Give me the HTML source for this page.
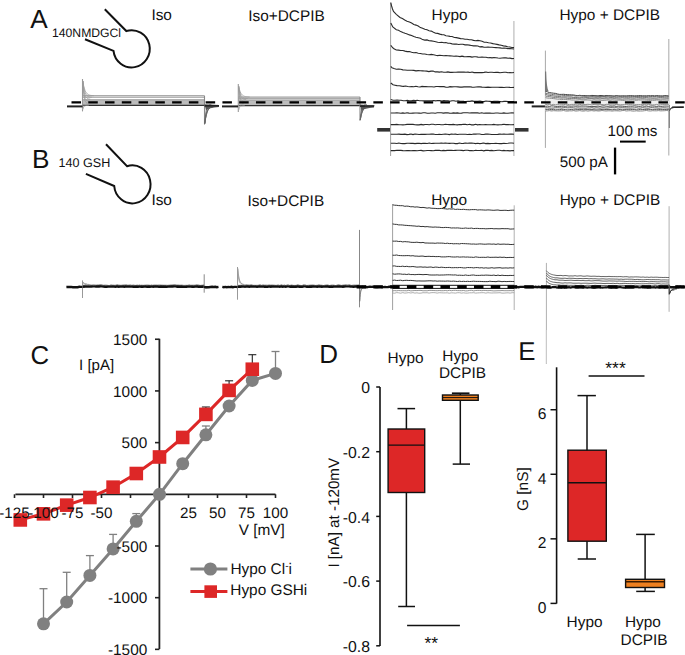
<!DOCTYPE html>
<html><head><meta charset="utf-8"><style>
html,body{margin:0;padding:0;background:#fff;width:685px;height:655px;overflow:hidden}
svg{display:block}
text{font-family:"Liberation Sans",sans-serif;fill:#111;text-rendering:geometricPrecision}
</style></head><body>
<svg width="685" height="655" viewBox="0 0 685 655">
<rect width="685" height="655" fill="#fff"/>
<text x="30.3" y="27.9" font-size="26.2" text-anchor="start" >A</text>
<text x="32.0" y="167.7" font-size="26.2" text-anchor="start" >B</text>
<text x="30.6" y="363.6" font-size="25.8" text-anchor="start" >C</text>
<text x="319.2" y="362.7" font-size="26" text-anchor="start" >D</text>
<text x="518.3" y="359.8" font-size="25.8" text-anchor="start" >E</text>
<path d="M104.8 9.3 L126.3 31.0 A18.2 18.6 0 1 1 113.5 50.9 L85 39.3" fill="none" stroke="#111" stroke-width="2.0"/>
<path d="M106 144.2 L127 166.2 A18.2 19 0 1 1 114.2 186 L85.9 173.9" fill="none" stroke="#111" stroke-width="2.0"/>
<text x="52.0" y="37.4" font-size="12.2" text-anchor="start" >140NMDGCl</text>
<text x="58.5" y="166.9" font-size="12.6" text-anchor="start" >140 GSH</text>
<text x="151.4" y="20.4" font-size="15.4" text-anchor="start" >Iso</text>
<text x="248.2" y="20.8" font-size="15.4" text-anchor="start" >Iso+DCPIB</text>
<text x="431.6" y="20.1" font-size="15.4" text-anchor="start" >Hypo</text>
<text x="559.5" y="20.1" font-size="15.4" text-anchor="start" >Hypo + DCPIB</text>
<text x="151.4" y="205.0" font-size="15.4" text-anchor="start" >Iso</text>
<text x="247.6" y="205.6" font-size="15.4" text-anchor="start" >Iso+DCPIB</text>
<text x="431.2" y="205.3" font-size="15.4" text-anchor="start" >Hypo</text>
<text x="559.7" y="204.7" font-size="15.4" text-anchor="start" >Hypo + DCPIB</text>
<line x1="82.50" y1="95.80" x2="204.50" y2="95.80" stroke="#7a7a7a" stroke-width="0.9" />
<line x1="82.50" y1="97.30" x2="204.50" y2="97.30" stroke="#8a8a8a" stroke-width="0.8" />
<rect x="82.50" y="99.30" width="122.00" height="6.30" fill="#bcbcbc" stroke="none" stroke-width="0"/>
<line x1="82.50" y1="99.80" x2="204.50" y2="99.80" stroke="#999" stroke-width="0.8" />
<line x1="82.50" y1="105.30" x2="204.50" y2="105.30" stroke="#333" stroke-width="1.3" />
<line x1="82.50" y1="79.00" x2="82.50" y2="111.40" stroke="#999" stroke-width="1.1" />
<polyline points="82.8,81.0 83.5,85.2 84.3,88.2 85.0,90.4 85.7,91.9 86.5,93.0 87.2,93.8 87.9,94.4 88.7,94.8 89.4,95.1 90.1,95.3 90.9,95.4 91.6,95.5 92.3,95.6 93.1,95.7 93.8,95.7" stroke="#999" stroke-width="0.8" fill="none" />
<polyline points="82.8,81.0 83.4,85.6 84.0,88.9 84.6,91.3 85.2,93.0 85.8,94.2 86.4,95.1 87.0,95.7 87.6,96.2 88.2,96.5 88.8,96.7 89.4,96.9 90.0,97.0 90.6,97.1 91.2,97.1 91.8,97.2" stroke="#999" stroke-width="0.8" fill="none" />
<polyline points="82.8,81.0 83.3,86.2 83.8,89.9 84.3,92.6 84.8,94.5 85.3,95.8 85.8,96.8 86.3,97.5 86.8,98.0 87.3,98.4 87.8,98.6 88.3,98.8 88.8,99.0 89.3,99.1 89.8,99.1 90.3,99.2" stroke="#999" stroke-width="0.8" fill="none" />
<polyline points="82.8,81.0 83.2,86.8 83.6,90.9 84.0,93.8 84.4,95.9 84.8,97.5 85.2,98.6 85.6,99.3 86.0,99.9 86.4,100.3 86.8,100.6 87.2,100.8 87.6,100.9 88.0,101.0 88.4,101.1 88.8,101.2" stroke="#999" stroke-width="0.8" fill="none" />
<polyline points="82.8,81.0 83.1,87.3 83.5,91.9 83.8,95.1 84.1,97.4 84.5,99.1 84.8,100.3 85.1,101.1 85.5,101.8 85.8,102.2 86.1,102.5 86.5,102.7 86.8,102.9 87.1,103.0 87.5,103.1 87.8,103.1" stroke="#999" stroke-width="0.8" fill="none" />
<polyline points="82.8,109.4 83.2,108.2 83.6,107.4 84.0,106.8 84.4,106.4 84.8,106.1 85.2,105.9 85.6,105.7 86.0,105.6 86.4,105.5 86.8,105.4 87.2,105.4 87.6,105.4 88.0,105.4 88.4,105.3 88.8,105.3" stroke="#aaa" stroke-width="0.8" fill="none" />
<polyline points="82.8,109.4 83.1,107.8 83.5,106.7 83.8,105.9 84.1,105.3 84.5,104.9 84.8,104.6 85.1,104.3 85.5,104.2 85.8,104.1 86.1,104.0 86.5,103.9 86.8,103.9 87.1,103.9 87.5,103.9 87.8,103.8" stroke="#aaa" stroke-width="0.8" fill="none" />
<line x1="204.50" y1="95.80" x2="204.50" y2="124.60" stroke="#888" stroke-width="1.1" />
<polyline points="204.8,123.6 205.6,118.4 206.5,114.7 207.3,112.0 208.1,110.1 209.0,108.8 209.8,107.8 210.6,107.1 211.5,106.6 212.3,106.2 213.1,106.0 214.0,105.8 214.8,105.6 215.6,105.5 216.5,105.5 217.3,105.4" stroke="#666" stroke-width="0.9" fill="none" />
<polyline points="204.8,123.6 205.5,118.6 206.1,115.1 206.8,112.5 207.5,110.7 208.1,109.4 208.8,108.5 209.5,107.8 210.1,107.3 210.8,107.0 211.5,106.7 212.1,106.5 212.8,106.4 213.5,106.3 214.1,106.3 214.8,106.2" stroke="#666" stroke-width="0.9" fill="none" />
<polyline points="204.8,123.6 205.3,118.9 205.9,115.5 206.4,113.0 206.9,111.3 207.5,110.1 208.0,109.2 208.5,108.5 209.1,108.1 209.6,107.7 210.1,107.5 210.7,107.3 211.2,107.2 211.7,107.1 212.3,107.1 212.8,107.0" stroke="#666" stroke-width="0.9" fill="none" />
<polyline points="204.8,123.6 205.2,118.1 205.7,114.1 206.1,111.3 206.5,109.2 207.0,107.8 207.4,106.7 207.8,106.0 208.3,105.5 208.7,105.1 209.1,104.8 209.6,104.6 210.0,104.5 210.4,104.4 210.9,104.3 211.3,104.2" stroke="#666" stroke-width="0.9" fill="none" />
<path d="M204.5 104.3 L219.0 105.1 L219.0 107.1 Q208.5 107.8 206.0 110.3 Z" fill="#555"/>
<line x1="204.50" y1="105.80" x2="219.00" y2="105.80" stroke="#222" stroke-width="1.6" />
<line x1="238.30" y1="97.10" x2="360.00" y2="97.10" stroke="#7a7a7a" stroke-width="0.9" />
<line x1="238.30" y1="98.60" x2="360.00" y2="98.60" stroke="#8a8a8a" stroke-width="0.8" />
<rect x="238.30" y="99.60" width="121.70" height="6.00" fill="#bcbcbc" stroke="none" stroke-width="0"/>
<line x1="238.30" y1="100.10" x2="360.00" y2="100.10" stroke="#999" stroke-width="0.8" />
<line x1="238.30" y1="105.60" x2="360.00" y2="105.60" stroke="#333" stroke-width="1.3" />
<line x1="238.30" y1="84.10" x2="238.30" y2="112.00" stroke="#999" stroke-width="1.1" />
<polyline points="238.6,86.1 239.3,89.2 240.1,91.5 240.8,93.1 241.5,94.2 242.3,95.0 243.0,95.6 243.7,96.0 244.5,96.3 245.2,96.6 245.9,96.7 246.7,96.8 247.4,96.9 248.1,97.0 248.9,97.0 249.6,97.0" stroke="#999" stroke-width="0.8" fill="none" />
<polyline points="238.6,86.1 239.2,89.6 239.8,92.2 240.4,94.0 241.0,95.3 241.6,96.2 242.2,96.9 242.8,97.4 243.4,97.7 244.0,98.0 244.6,98.2 245.2,98.3 245.8,98.4 246.4,98.4 247.0,98.5 247.6,98.5" stroke="#999" stroke-width="0.8" fill="none" />
<polyline points="238.6,86.1 239.1,89.9 239.6,92.7 240.1,94.6 240.6,96.0 241.1,97.1 241.6,97.8 242.1,98.3 242.6,98.7 243.1,98.9 243.6,99.1 244.1,99.3 244.6,99.4 245.1,99.4 245.6,99.5 246.1,99.5" stroke="#999" stroke-width="0.8" fill="none" />
<polyline points="238.6,86.1 239.0,90.5 239.4,93.6 239.8,95.9 240.2,97.5 240.6,98.7 241.0,99.5 241.4,100.1 241.8,100.5 242.2,100.8 242.6,101.0 243.0,101.2 243.4,101.3 243.8,101.4 244.2,101.5 244.6,101.5" stroke="#999" stroke-width="0.8" fill="none" />
<polyline points="238.6,86.1 238.9,91.1 239.3,94.6 239.6,97.2 239.9,99.0 240.3,100.3 240.6,101.2 240.9,101.9 241.3,102.4 241.6,102.7 241.9,103.0 242.3,103.2 242.6,103.3 242.9,103.4 243.3,103.4 243.6,103.5" stroke="#999" stroke-width="0.8" fill="none" />
<polyline points="238.6,110.0 239.0,108.8 239.4,107.9 239.8,107.2 240.2,106.8 240.6,106.4 241.0,106.2 241.4,106.0 241.8,105.9 242.2,105.8 242.6,105.8 243.0,105.7 243.4,105.7 243.8,105.7 244.2,105.6 244.6,105.6" stroke="#aaa" stroke-width="0.8" fill="none" />
<polyline points="238.6,110.0 238.9,108.3 239.3,107.1 239.6,106.3 239.9,105.7 240.3,105.2 240.6,104.9 240.9,104.7 241.3,104.5 241.6,104.4 241.9,104.3 242.3,104.3 242.6,104.2 242.9,104.2 243.3,104.2 243.6,104.1" stroke="#aaa" stroke-width="0.8" fill="none" />
<line x1="360.00" y1="97.10" x2="360.00" y2="120.70" stroke="#888" stroke-width="1.1" />
<polyline points="360.3,119.7 361.1,115.7 362.0,112.8 362.8,110.8 363.6,109.3 364.5,108.3 365.3,107.5 366.1,107.0 367.0,106.6 367.8,106.3 368.6,106.1 369.5,106.0 370.3,105.9 371.1,105.8 372.0,105.7 372.8,105.7" stroke="#666" stroke-width="0.9" fill="none" />
<polyline points="360.3,119.7 361.0,115.9 361.6,113.2 362.3,111.3 363.0,109.9 363.6,108.9 364.3,108.2 365.0,107.7 365.6,107.3 366.3,107.1 367.0,106.9 367.6,106.7 368.3,106.6 369.0,106.6 369.6,106.5 370.3,106.5" stroke="#666" stroke-width="0.9" fill="none" />
<polyline points="360.3,119.7 360.8,116.2 361.4,113.6 361.9,111.8 362.4,110.5 363.0,109.6 363.5,108.9 364.0,108.4 364.6,108.1 365.1,107.8 365.6,107.6 366.2,107.5 366.7,107.4 367.2,107.4 367.8,107.3 368.3,107.3" stroke="#666" stroke-width="0.9" fill="none" />
<polyline points="360.3,119.7 360.7,115.4 361.2,112.3 361.6,110.0 362.0,108.4 362.5,107.3 362.9,106.5 363.3,105.9 363.8,105.5 364.2,105.2 364.6,104.9 365.1,104.8 365.5,104.7 365.9,104.6 366.4,104.5 366.8,104.5" stroke="#666" stroke-width="0.9" fill="none" />
<path d="M360.0 104.6 L374.0 105.4 L374.0 107.4 Q364.0 108.1 361.5 110.6 Z" fill="#555"/>
<line x1="360.00" y1="106.10" x2="374.00" y2="106.10" stroke="#222" stroke-width="1.6" />
<line x1="67.00" y1="106.40" x2="82.50" y2="106.40" stroke="#222" stroke-width="2.0" />
<line x1="222.00" y1="106.40" x2="238.00" y2="106.40" stroke="#222" stroke-width="2.0" />
<line x1="531.70" y1="106.40" x2="545.40" y2="106.40" stroke="#222" stroke-width="2.0" />
<line x1="672.00" y1="107.30" x2="683.80" y2="107.10" stroke="#222" stroke-width="1.6" />
<line x1="669.20" y1="105.00" x2="669.20" y2="128.00" stroke="#333" stroke-width="1.0" />
<polyline points="669.4,111.0 669.8,110.0 670.2,109.2 670.6,108.7 671.0,108.3 671.4,108.0 671.8,107.8 672.2,107.7 672.6,107.6 673.0,107.5 673.4,107.4 673.8,107.4 674.2,107.4 674.6,107.3 675.0,107.3 675.4,107.3" stroke="#333" stroke-width="1.0" fill="none" />
<polyline points="669.4,111.0 669.7,110.1 669.9,109.4 670.2,109.0 670.5,108.6 670.7,108.4 671.0,108.2 671.3,108.1 671.5,108.0 671.8,108.0 672.1,107.9 672.3,107.9 672.6,107.9 672.9,107.8 673.1,107.8 673.4,107.8" stroke="#333" stroke-width="1.0" fill="none" />
<line x1="390.60" y1="2.50" x2="390.60" y2="156.00" stroke="#a0a0a0" stroke-width="1" />
<line x1="513.90" y1="21.00" x2="513.90" y2="156.00" stroke="#c0c0c0" stroke-width="1.3" />
<polyline points="390.8,2.6 391.6,6.0 392.5,9.0 393.5,11.5 396.3,14.3 400.0,17.5 402.4,18.6 404.7,20.0 407.0,21.2 409.4,22.0 411.6,23.0 413.8,24.5 416.0,25.1 418.2,26.1 420.4,27.6 422.6,28.3 424.8,29.3 427.0,29.8 429.1,30.7 431.3,31.1 433.5,32.2 435.7,33.2 437.7,33.4 439.8,34.1 441.8,34.6 443.9,34.7 445.9,35.7 448.0,36.0 450.0,36.4 452.1,36.5 454.3,37.5 456.4,37.6 458.6,38.1 460.7,38.6 462.9,38.8 465.0,39.3 467.1,39.2 469.3,39.8 471.4,39.8 473.6,40.4 475.7,40.7 477.9,40.4 480.0,40.7 482.1,41.2 484.2,42.2 486.4,42.3 488.5,42.8 490.6,43.0 492.8,43.6 494.9,44.0 497.0,44.4 499.1,44.9 501.2,45.3 503.4,45.9 505.5,46.1 507.6,46.7 509.8,47.0 511.9,47.5 514.0,47.5" stroke="#2a2a2a" stroke-width="1.1" fill="none" />
<polyline points="390.8,23.0 391.8,25.0 392.8,27.0 396.3,29.7 398.5,30.2 400.7,31.6 402.9,32.5 405.0,33.3 407.2,34.0 409.4,34.9 411.6,35.4 413.8,36.6 416.0,37.2 418.2,37.7 420.4,38.3 422.6,39.6 424.8,40.1 427.0,39.9 429.1,40.8 431.3,40.9 433.5,41.2 435.7,41.7 437.7,42.2 439.8,42.5 441.8,42.2 443.9,42.8 445.9,42.6 448.0,43.3 450.0,43.3 452.1,43.9 454.3,44.1 456.4,44.0 458.6,44.5 460.7,44.3 462.9,44.3 465.0,44.9 467.1,44.7 469.3,45.1 471.4,45.5 473.6,45.9 475.7,45.8 477.9,46.0 480.0,46.9 482.0,46.6 484.0,47.2 486.0,47.2 488.0,47.0 490.0,47.2 492.0,47.3 494.0,47.5 496.0,47.6 498.0,47.7 500.0,47.9 502.0,48.3 504.0,48.1 506.0,48.3 508.0,48.6 510.0,48.5 512.0,48.7 514.0,49.0" stroke="#2a2a2a" stroke-width="1.1" fill="none" />
<polyline points="390.8,45.3 392.0,47.0 393.5,48.5 396.3,50.0 398.5,50.1 400.7,50.5 402.9,50.5 405.0,51.1 407.2,51.6 409.4,51.6 411.6,52.3 413.8,52.7 416.0,52.6 418.2,53.3 420.4,53.5 422.6,54.0 424.8,54.0 427.0,54.5 429.1,54.7 431.3,54.4 433.5,54.7 435.7,55.3 437.7,55.6 439.8,55.3 441.8,55.5 443.9,55.7 445.9,55.6 448.0,55.8 450.0,55.9 452.0,56.0 454.0,56.2 456.0,56.1 458.0,56.2 460.0,56.6 462.0,56.1 464.0,56.6 466.0,56.8 468.0,56.6 470.0,56.6 472.0,57.1 474.0,56.8 476.0,56.8 478.0,57.1 480.0,57.3 482.0,57.0 484.0,57.2 486.0,57.3 488.0,57.7 490.0,57.5 492.0,57.9 494.0,57.5 496.0,57.7 498.0,58.0 500.0,58.2 502.0,58.0 504.0,57.9 506.0,57.9 508.0,58.3 510.0,58.1 512.0,58.6 514.0,58.5" stroke="#2a2a2a" stroke-width="1.1" fill="none" />
<polyline points="390.8,66.4 392.0,67.8 394.0,68.6 396.3,69.2 398.5,69.0 400.7,69.3 402.9,69.9 405.0,70.0 407.2,70.3 409.4,70.2 411.6,70.2 413.8,70.4 416.0,70.9 418.2,70.6 420.4,70.8 422.6,70.9 424.7,71.0 426.8,71.1 428.9,71.6 431.0,71.1 433.1,71.1 435.2,71.9 437.4,71.9 439.5,72.1 441.6,71.8 443.7,72.2 445.8,72.3 447.9,71.9 450.0,72.4 452.0,72.4 454.0,72.3 456.0,72.2 458.0,72.1 460.0,72.1 462.0,72.1 464.0,72.0 466.0,72.3 468.0,72.1 470.0,72.5 472.0,72.0 474.0,72.6 476.0,72.5 478.0,72.6 480.0,72.6 482.0,72.6 484.0,72.4 486.0,72.0 488.0,72.5 490.0,72.2 492.0,72.3 494.0,72.5 496.0,72.4 498.0,72.4 500.0,72.7 502.0,72.5 504.0,72.3 506.0,72.3 508.0,72.7 510.0,72.5 512.0,72.7 514.0,72.5" stroke="#2a2a2a" stroke-width="1.1" fill="none" />
<polyline points="390.8,83.0 393.0,84.8 395.0,85.2 397.0,85.6 399.3,85.7 401.6,86.1 403.6,86.4 405.7,86.0 407.7,86.5 409.8,86.7 411.8,86.6 413.9,86.7 415.9,86.2 418.0,86.7 420.0,87.0 422.0,86.4 424.0,86.6 426.0,86.6 428.0,86.8 430.0,86.7 432.0,86.8 434.0,87.0 436.0,86.5 438.0,86.5 440.0,86.6 442.0,86.6 444.0,86.6 446.0,87.2 448.0,87.2 450.0,86.6 452.0,86.9 454.0,86.8 456.0,86.8 458.0,86.9 460.0,87.1 462.0,87.1 464.0,86.9 466.0,86.8 468.0,86.9 470.0,86.8 472.0,87.1 474.0,87.3 476.0,87.0 478.0,86.8 480.0,86.9 482.0,87.1 484.0,87.2 486.0,87.4 488.0,87.1 490.0,87.4 492.0,87.3 494.0,87.2 496.0,87.2 498.0,87.3 500.0,87.4 502.0,87.3 504.0,87.5 506.0,87.3 508.0,87.2 510.0,87.4 512.0,87.5 514.0,87.4" stroke="#2a2a2a" stroke-width="1.1" fill="none" />
<polyline points="390.8,99.6 393.0,100.3 395.0,100.3 397.1,100.1 399.1,100.3 401.1,100.3 403.2,100.7 405.2,100.8 407.2,100.4 409.3,100.8 411.3,100.7 413.4,100.4 415.4,100.5 417.4,100.3 419.5,100.8 421.5,100.8 423.5,100.9 425.6,100.9 427.6,100.8 429.6,100.9 431.7,100.8 433.7,100.5 435.8,100.9 437.8,100.5 439.8,100.6 441.9,101.1 443.9,100.6 445.9,100.7 448.0,100.7 450.0,101.3 452.0,100.8 454.0,100.7 456.0,101.3 458.0,100.8 460.0,101.3 462.0,101.2 464.0,101.4 466.0,101.5 468.0,101.2 470.0,101.4 472.0,100.9 474.0,101.4 476.0,101.3 478.0,101.4 480.0,101.0 482.0,101.5 484.0,101.6 486.0,101.0 488.0,101.2 490.0,101.4 492.0,101.6 494.0,101.2 496.0,101.2 498.0,101.3 500.0,101.5 502.0,101.7 504.0,101.4 506.0,101.4 508.0,101.5 510.0,101.5 512.0,101.5 514.0,101.6" stroke="#2a2a2a" stroke-width="1.1" fill="none" />
<polyline points="390.8,113.0 392.8,113.0 394.8,113.0 396.9,112.7 398.9,113.0 400.9,113.3 402.9,112.9 404.9,113.2 407.0,112.8 409.0,113.1 411.0,113.2 413.0,113.1 415.0,113.0 417.1,113.0 419.1,113.1 421.1,113.3 423.1,112.8 425.1,112.7 427.2,113.2 429.2,113.3 431.2,113.0 433.2,113.0 435.2,113.2 437.3,112.8 439.3,112.8 441.3,112.8 443.3,113.1 445.3,112.9 447.4,112.8 449.4,113.1 451.4,113.3 453.4,112.9 455.4,113.1 457.4,112.9 459.5,113.2 461.5,113.1 463.5,112.8 465.5,112.8 467.5,112.7 469.6,113.0 471.6,112.9 473.6,112.8 475.6,112.9 477.6,112.9 479.7,113.2 481.7,112.8 483.7,113.3 485.7,113.0 487.7,113.1 489.8,113.0 491.8,113.2 493.8,113.2 495.8,113.0 497.8,113.0 499.9,113.2 501.9,113.2 503.9,112.9 505.9,113.2 507.9,113.3 510.0,113.0 512.0,112.8 514.0,113.0" stroke="#2a2a2a" stroke-width="1.1" fill="none" />
<polyline points="390.8,124.6 392.8,124.6 394.8,124.6 396.9,124.4 398.9,124.8 400.9,124.7 402.9,124.9 404.9,124.8 407.0,124.4 409.0,124.4 411.0,124.4 413.0,124.4 415.0,124.7 417.1,124.9 419.1,124.9 421.1,124.4 423.1,124.9 425.1,124.5 427.2,124.5 429.2,124.8 431.2,124.3 433.2,124.3 435.2,124.8 437.3,124.5 439.3,124.5 441.3,124.7 443.3,124.7 445.3,124.3 447.4,124.5 449.4,124.6 451.4,124.6 453.4,124.4 455.4,124.7 457.4,124.9 459.5,124.5 461.5,124.6 463.5,124.3 465.5,124.4 467.5,124.7 469.6,124.3 471.6,124.9 473.6,124.9 475.6,124.3 477.6,124.9 479.7,124.5 481.7,124.8 483.7,124.8 485.7,124.5 487.7,124.7 489.8,124.7 491.8,124.8 493.8,124.4 495.8,124.8 497.8,124.9 499.9,124.7 501.9,124.6 503.9,124.3 505.9,124.6 507.9,124.5 510.0,124.8 512.0,124.7 514.0,124.6" stroke="#2a2a2a" stroke-width="1.1" fill="none" />
<polyline points="390.8,134.3 392.8,134.3 394.8,134.3 396.9,134.3 398.9,134.1 400.9,134.4 402.9,134.4 404.9,134.1 407.0,134.6 409.0,134.4 411.0,134.0 413.0,134.6 415.0,134.0 417.1,134.2 419.1,134.5 421.1,134.4 423.1,134.3 425.1,134.4 427.2,134.3 429.2,134.2 431.2,134.1 433.2,134.0 435.2,134.5 437.3,134.5 439.3,134.3 441.3,134.5 443.3,134.2 445.3,134.1 447.4,134.2 449.4,134.6 451.4,134.0 453.4,134.3 455.4,134.1 457.4,134.5 459.5,134.2 461.5,134.2 463.5,134.2 465.5,134.3 467.5,134.5 469.6,134.2 471.6,134.5 473.6,134.0 475.6,134.1 477.6,134.0 479.7,134.0 481.7,134.5 483.7,134.5 485.7,134.1 487.7,134.1 489.8,134.2 491.8,134.5 493.8,134.5 495.8,134.5 497.8,134.4 499.9,134.1 501.9,134.2 503.9,134.1 505.9,134.3 507.9,134.3 510.0,134.1 512.0,134.1 514.0,134.3" stroke="#2a2a2a" stroke-width="1.1" fill="none" />
<polyline points="390.8,143.3 392.8,143.3 394.8,143.3 396.9,143.5 398.9,143.0 400.9,143.5 402.9,143.6 404.9,143.6 407.0,143.2 409.0,143.3 411.0,143.4 413.0,143.4 415.0,143.6 417.1,143.4 419.1,143.2 421.1,143.6 423.1,143.3 425.1,143.4 427.2,143.5 429.2,143.0 431.2,143.5 433.2,143.4 435.2,143.3 437.3,143.3 439.3,143.3 441.3,143.1 443.3,143.3 445.3,143.0 447.4,143.3 449.4,143.4 451.4,143.3 453.4,143.3 455.4,143.6 457.4,143.6 459.5,143.0 461.5,143.5 463.5,143.4 465.5,143.0 467.5,143.2 469.6,143.1 471.6,143.0 473.6,143.3 475.6,143.6 477.6,143.2 479.7,143.6 481.7,143.4 483.7,143.0 485.7,143.6 487.7,143.4 489.8,143.6 491.8,143.5 493.8,143.5 495.8,143.2 497.8,143.5 499.9,143.6 501.9,143.6 503.9,143.3 505.9,143.5 507.9,143.3 510.0,143.0 512.0,143.0 514.0,143.3" stroke="#2a2a2a" stroke-width="1.1" fill="none" />
<polyline points="390.8,150.6 392.8,150.6 394.8,150.6 396.9,150.3 398.9,150.4 400.9,150.4 402.9,150.6 404.9,150.7 407.0,150.6 409.0,150.5 411.0,150.7 413.0,150.5 415.0,150.6 417.1,150.8 419.1,150.5 421.1,150.4 423.1,150.9 425.1,150.8 427.2,150.5 429.2,150.5 431.2,150.6 433.2,150.7 435.2,150.4 437.3,150.3 439.3,150.4 441.3,150.8 443.3,150.4 445.3,150.6 447.4,150.4 449.4,150.4 451.4,150.4 453.4,150.5 455.4,150.4 457.4,150.3 459.5,150.3 461.5,150.4 463.5,150.6 465.5,150.3 467.5,150.3 469.6,150.6 471.6,150.5 473.6,150.7 475.6,150.3 477.6,150.5 479.7,150.5 481.7,150.3 483.7,150.9 485.7,150.4 487.7,150.3 489.8,150.6 491.8,150.4 493.8,150.7 495.8,150.5 497.8,150.3 499.9,150.3 501.9,150.8 503.9,150.4 505.9,150.8 507.9,150.6 510.0,150.9 512.0,150.5 514.0,150.6" stroke="#2a2a2a" stroke-width="1.1" fill="none" />
<rect x="377.20" y="128.00" width="12.80" height="3.60" fill="#333" stroke="none" stroke-width="0"/>
<rect x="515.00" y="128.00" width="13.50" height="3.60" fill="#333" stroke="none" stroke-width="0"/>
<line x1="365.00" y1="105.80" x2="374.50" y2="105.80" stroke="#444" stroke-width="1" />
<line x1="545.40" y1="50.60" x2="545.40" y2="147.90" stroke="#a8a8a8" stroke-width="1" />
<line x1="668.80" y1="38.90" x2="668.80" y2="155.60" stroke="#b0b0b0" stroke-width="1.1" />
<rect x="545.40" y="95.50" width="123.40" height="15.50" fill="#f0f0f0" stroke="none" stroke-width="0"/>
<polyline points="545.4,91.2 547.4,91.8 549.4,92.6 551.5,92.9 553.5,93.2 555.5,93.4 557.5,94.0 559.6,94.4 561.6,94.4 563.6,94.3 565.6,94.5 567.7,94.7 569.7,94.8 571.7,94.9 573.7,95.0 575.7,95.4 577.8,95.6 579.8,95.3 581.8,95.7 583.8,95.5 585.9,95.7 587.9,95.8 589.9,95.8 591.9,95.4 594.0,95.6 596.0,95.7 598.0,95.9 600.0,95.5 602.0,95.6 604.1,95.9 606.1,95.5 608.1,95.7 610.1,95.7 612.2,95.9 614.2,96.0 616.2,95.6 618.2,95.9 620.2,95.9 622.3,95.9 624.3,95.8 626.3,96.0 628.3,95.7 630.4,95.7 632.4,95.7 634.4,95.9 636.4,95.8 638.5,95.7 640.5,95.6 642.5,95.9 644.5,95.8 646.5,95.9 648.6,95.7 650.6,95.8 652.6,95.6 654.6,95.9 656.7,95.6 658.7,95.8 660.7,95.9 662.7,95.9 664.8,95.6 666.8,95.7 668.8,96.0" stroke="#333" stroke-width="0.95" fill="none" />
<polyline points="545.4,93.1 547.4,93.6 549.4,94.0 551.5,94.2 553.5,94.7 555.5,94.9 557.5,94.9 559.6,95.1 561.6,95.1 563.6,95.4 565.6,95.8 567.7,95.5 569.7,95.8 571.7,95.7 573.7,95.7 575.7,96.1 577.8,95.9 579.8,95.9 581.8,96.0 583.8,96.3 585.9,96.3 587.9,96.0 589.9,96.1 591.9,96.5 594.0,96.2 596.0,96.3 598.0,96.3 600.0,96.5 602.0,96.4 604.1,96.5 606.1,96.4 608.1,96.2 610.1,96.2 612.2,96.2 614.2,96.5 616.2,96.2 618.2,96.1 620.2,96.6 622.3,96.2 624.3,96.6 626.3,96.2 628.3,96.4 630.4,96.3 632.4,96.6 634.4,96.5 636.4,96.5 638.5,96.5 640.5,96.6 642.5,96.3 644.5,96.4 646.5,96.4 648.6,96.2 650.6,96.6 652.6,96.4 654.6,96.6 656.7,96.3 658.7,96.4 660.7,96.4 662.7,96.5 664.8,96.2 666.8,96.3 668.8,96.4" stroke="#666" stroke-width="0.95" fill="none" />
<polyline points="545.4,94.3 547.4,95.0 549.4,95.4 551.5,95.6 553.5,96.0 555.5,96.3 557.5,96.3 559.6,96.5 561.6,97.0 563.6,96.8 565.6,97.0 567.7,96.9 569.7,97.1 571.7,97.1 573.7,97.6 575.7,97.5 577.8,97.7 579.8,97.8 581.8,97.6 583.8,97.8 585.9,97.6 587.9,97.6 589.9,97.9 591.9,97.9 594.0,97.9 596.0,97.7 598.0,97.9 600.0,97.7 602.0,98.0 604.1,98.0 606.1,97.7 608.1,98.0 610.1,97.6 612.2,97.6 614.2,97.9 616.2,97.7 618.2,97.8 620.2,97.9 622.3,97.6 624.3,97.9 626.3,97.7 628.3,97.8 630.4,97.7 632.4,97.9 634.4,97.9 636.4,97.7 638.5,97.6 640.5,97.7 642.5,97.8 644.5,97.6 646.5,97.6 648.6,97.9 650.6,97.9 652.6,98.0 654.6,98.0 656.7,98.0 658.7,97.7 660.7,97.6 662.7,97.7 664.8,97.8 666.8,97.8 668.8,97.8" stroke="#666" stroke-width="0.95" fill="none" />
<polyline points="545.4,95.9 547.4,96.6 549.4,96.6 551.5,97.0 553.5,97.5 555.5,97.7 557.5,97.6 559.6,97.8 561.6,98.2 563.6,97.9 565.6,98.1 567.7,98.4 569.7,98.5 571.7,98.4 573.7,98.4 575.7,98.5 577.8,98.8 579.8,98.7 581.8,99.0 583.8,99.0 585.9,99.1 587.9,98.6 589.9,98.7 591.9,98.6 594.0,98.9 596.0,98.8 598.0,98.7 600.0,99.0 602.0,98.7 604.1,98.9 606.1,98.8 608.1,99.1 610.1,98.9 612.2,98.9 614.2,98.7 616.2,98.9 618.2,99.0 620.2,99.1 622.3,99.2 624.3,99.1 626.3,98.9 628.3,98.8 630.4,99.1 632.4,99.1 634.4,99.0 636.4,99.2 638.5,99.0 640.5,98.9 642.5,98.8 644.5,98.8 646.5,99.1 648.6,99.2 650.6,99.2 652.6,99.0 654.6,99.1 656.7,99.2 658.7,99.2 660.7,99.1 662.7,99.0 664.8,99.0 666.8,98.8 668.8,98.8" stroke="#777" stroke-width="0.95" fill="none" />
<polyline points="545.4,97.6 547.4,98.1 549.4,98.2 551.5,98.4 553.5,98.6 555.5,98.9 557.5,99.2 559.6,99.2 561.6,99.6 563.6,99.3 565.6,99.5 567.7,99.7 569.7,99.7 571.7,100.0 573.7,100.0 575.7,100.1 577.8,100.0 579.8,99.7 581.8,100.0 583.8,100.1 585.9,100.0 587.9,100.0 589.9,100.2 591.9,100.3 594.0,99.9 596.0,100.2 598.0,100.1 600.0,100.2 602.0,100.4 604.1,100.4 606.1,100.2 608.1,100.0 610.1,100.4 612.2,100.0 614.2,100.1 616.2,100.3 618.2,100.1 620.2,100.1 622.3,100.4 624.3,100.4 626.3,100.1 628.3,100.1 630.4,100.1 632.4,100.0 634.4,100.1 636.4,100.4 638.5,100.0 640.5,100.1 642.5,100.0 644.5,100.0 646.5,100.2 648.6,100.3 650.6,100.4 652.6,100.3 654.6,100.4 656.7,100.0 658.7,100.1 660.7,100.4 662.7,100.0 664.8,100.1 666.8,100.2 668.8,100.1" stroke="#888" stroke-width="0.95" fill="none" />
<polyline points="545.4,104.6 547.4,104.3 549.4,104.4 551.5,104.9 553.5,104.4 555.5,104.9 557.5,104.4 559.6,104.9 561.6,104.7 563.6,104.7 565.6,104.3 567.7,104.3 569.7,104.8 571.7,104.4 573.7,104.4 575.7,104.8 577.8,104.9 579.8,104.3 581.8,104.9 583.8,104.6 585.9,104.5 587.9,104.3 589.9,104.5 591.9,104.9 594.0,104.4 596.0,104.3 598.0,104.4 600.0,104.3 602.0,104.5 604.1,104.9 606.1,104.3 608.1,104.4 610.1,104.9 612.2,104.9 614.2,104.9 616.2,104.4 618.2,104.5 620.2,104.9 622.3,104.6 624.3,104.7 626.3,104.5 628.3,104.3 630.4,104.5 632.4,104.8 634.4,104.8 636.4,104.6 638.5,104.6 640.5,104.6 642.5,104.6 644.5,104.6 646.5,104.8 648.6,104.4 650.6,104.7 652.6,104.9 654.6,104.8 656.7,104.4 658.7,104.9 660.7,104.8 662.7,104.4 664.8,104.4 666.8,104.4 668.8,104.3" stroke="#888" stroke-width="0.95" fill="none" />
<polyline points="545.4,106.5 547.4,106.1 549.4,106.5 551.5,105.9 553.5,105.9 555.5,106.5 557.5,106.4 559.6,106.5 561.6,106.3 563.6,106.2 565.6,106.4 567.7,105.9 569.7,106.2 571.7,106.2 573.7,106.0 575.7,106.3 577.8,106.1 579.8,106.2 581.8,106.1 583.8,106.1 585.9,106.1 587.9,106.3 589.9,106.5 591.9,106.5 594.0,106.5 596.0,106.4 598.0,106.1 600.0,106.5 602.0,106.0 604.1,105.9 606.1,106.2 608.1,106.4 610.1,106.1 612.2,106.3 614.2,106.0 616.2,106.5 618.2,106.2 620.2,106.2 622.3,106.2 624.3,106.5 626.3,106.5 628.3,106.2 630.4,106.2 632.4,106.3 634.4,105.9 636.4,106.1 638.5,106.4 640.5,106.4 642.5,105.9 644.5,106.4 646.5,106.1 648.6,106.5 650.6,106.1 652.6,106.0 654.6,106.2 656.7,106.5 658.7,106.2 660.7,106.5 662.7,106.3 664.8,106.1 666.8,106.1 668.8,106.2" stroke="#555" stroke-width="0.95" fill="none" />
<polyline points="545.4,107.8 547.4,107.8 549.4,108.0 551.5,108.2 553.5,108.0 555.5,107.7 557.5,107.7 559.6,107.8 561.6,108.0 563.6,107.6 565.6,107.6 567.7,107.8 569.7,107.7 571.7,107.6 573.7,107.9 575.7,108.2 577.8,107.9 579.8,108.1 581.8,108.1 583.8,108.1 585.9,108.2 587.9,107.9 589.9,108.0 591.9,107.6 594.0,108.2 596.0,107.8 598.0,107.9 600.0,108.2 602.0,107.8 604.1,107.7 606.1,108.1 608.1,108.0 610.1,107.6 612.2,107.6 614.2,107.8 616.2,107.6 618.2,108.1 620.2,107.7 622.3,107.7 624.3,107.8 626.3,107.9 628.3,107.9 630.4,108.0 632.4,108.0 634.4,107.9 636.4,107.6 638.5,108.2 640.5,108.0 642.5,107.6 644.5,107.9 646.5,108.1 648.6,108.2 650.6,107.6 652.6,107.6 654.6,107.9 656.7,107.8 658.7,108.2 660.7,108.1 662.7,107.8 664.8,107.8 666.8,108.0 668.8,108.2" stroke="#666" stroke-width="0.95" fill="none" />
<polyline points="545.4,109.4 547.4,109.5 549.4,109.3 551.5,109.7 553.5,109.3 555.5,109.9 557.5,109.6 559.6,109.7 561.6,109.3 563.6,109.4 565.6,109.6 567.7,109.9 569.7,109.6 571.7,109.4 573.7,109.9 575.7,109.7 577.8,109.6 579.8,109.4 581.8,109.5 583.8,109.9 585.9,109.3 587.9,109.6 589.9,109.7 591.9,109.5 594.0,109.8 596.0,109.9 598.0,109.9 600.0,109.8 602.0,109.4 604.1,109.3 606.1,109.6 608.1,109.5 610.1,109.4 612.2,109.9 614.2,109.4 616.2,109.8 618.2,109.9 620.2,109.3 622.3,109.9 624.3,109.5 626.3,109.4 628.3,109.4 630.4,109.3 632.4,109.6 634.4,109.5 636.4,109.8 638.5,109.8 640.5,109.3 642.5,109.5 644.5,109.5 646.5,109.4 648.6,109.4 650.6,109.4 652.6,109.7 654.6,109.5 656.7,109.3 658.7,109.4 660.7,109.6 662.7,109.6 664.8,109.4 666.8,109.7 668.8,109.4" stroke="#555" stroke-width="0.95" fill="none" />
<polyline points="545.4,110.9 547.4,110.9 549.4,110.6 551.5,111.0 553.5,110.7 555.5,110.8 557.5,110.9 559.6,110.9 561.6,110.8 563.6,110.5 565.6,111.0 567.7,111.1 569.7,110.8 571.7,110.9 573.7,110.6 575.7,111.1 577.8,110.9 579.8,110.6 581.8,111.0 583.8,111.1 585.9,110.7 587.9,111.1 589.9,110.8 591.9,110.6 594.0,111.0 596.0,110.7 598.0,111.0 600.0,110.9 602.0,110.5 604.1,110.8 606.1,111.0 608.1,110.8 610.1,110.8 612.2,111.1 614.2,110.8 616.2,110.8 618.2,110.9 620.2,111.0 622.3,110.6 624.3,110.5 626.3,111.0 628.3,110.8 630.4,110.7 632.4,111.1 634.4,111.1 636.4,110.8 638.5,111.1 640.5,111.0 642.5,111.0 644.5,110.7 646.5,110.5 648.6,110.9 650.6,111.0 652.6,110.7 654.6,110.8 656.7,110.8 658.7,110.6 660.7,110.9 662.7,110.8 664.8,110.7 666.8,110.5 668.8,110.8" stroke="#888" stroke-width="0.95" fill="none" />
<path d="M545.0 71.5 L546.2 71.5 Q546.6 88 548.5 91 L545.0 92 Z" fill="#777"/>
<line x1="71.5" y1="102.3" x2="685" y2="102.3" stroke="#000" stroke-width="2.3" stroke-dasharray="9.5 7.27"/>
<text x="607.6" y="135.6" font-size="15.2" text-anchor="start" >100 ms</text>
<rect x="620.00" y="140.60" width="25.70" height="2.00" fill="#000" stroke="none" stroke-width="0"/>
<text x="559.8" y="166.7" font-size="15.2" text-anchor="start" >500 pA</text>
<rect x="613.90" y="147.60" width="2.30" height="26.80" fill="#000" stroke="none" stroke-width="0"/>
<polyline points="82.5,286.3 84.0,286.5 85.5,286.2 87.0,286.3 88.5,286.2 90.0,286.4 91.5,286.4 93.0,286.2 94.5,286.2 96.0,286.4 97.5,286.3 99.0,286.4 100.5,286.2 102.0,286.2 103.5,286.4 105.0,286.6 106.5,286.6 108.0,286.4 109.5,286.3 111.0,286.2 112.5,286.3 114.1,286.3 115.6,286.6 117.1,286.2 118.6,286.6 120.1,286.4 121.6,286.4 123.1,286.3 124.6,286.6 126.1,286.2 127.6,286.4 129.1,286.4 130.6,286.2 132.1,286.3 133.6,286.6 135.1,286.5 136.6,286.5 138.1,286.6 139.6,286.2 141.1,286.5 142.6,286.5 144.1,286.3 145.6,286.4 147.1,286.6 148.6,286.3 150.1,286.5 151.6,286.2 153.1,286.5 154.6,286.3 156.1,286.4 157.6,286.3 159.1,286.6 160.6,286.5 162.1,286.4 163.6,286.5 165.1,286.4 166.6,286.6 168.1,286.3 169.6,286.4 171.1,286.4 172.6,286.3 174.2,286.2 175.7,286.2 177.2,286.5 178.7,286.3 180.2,286.5 181.7,286.4 183.2,286.6 184.7,286.6 186.2,286.5 187.7,286.3 189.2,286.2 190.7,286.4 192.2,286.5 193.7,286.6 195.2,286.3 196.7,286.2 198.2,286.6 199.7,286.5 201.2,286.4 202.7,286.5 204.2,286.2" stroke="#111" stroke-width="2.8" fill="none" />
<polyline points="82.5,285.2 84.5,285.3 86.6,285.3 88.6,285.0 90.6,285.0 92.6,285.3 94.7,285.4 96.7,285.0 98.7,284.9 100.8,284.9 102.8,285.4 104.8,285.1 106.8,285.2 108.9,285.5 110.9,285.3 112.9,285.1 115.0,285.3 117.0,284.9 119.0,285.1 121.0,285.3 123.1,285.0 125.1,284.9 127.1,285.2 129.2,285.1 131.2,285.5 133.2,285.0 135.2,285.4 137.3,285.1 139.3,285.4 141.3,285.2 143.3,285.3 145.4,285.1 147.4,285.0 149.4,285.2 151.5,285.4 153.5,285.1 155.5,285.0 157.5,285.1 159.6,285.0 161.6,285.1 163.6,285.2 165.7,285.2 167.7,285.3 169.7,285.1 171.7,284.9 173.8,284.9 175.8,285.1 177.8,285.0 179.9,285.2 181.9,285.1 183.9,285.4 185.9,285.3 188.0,285.3 190.0,285.3 192.0,285.2 194.1,285.2 196.1,285.1 198.1,284.9 200.1,285.4 202.2,285.2 204.2,285.0" stroke="#666" stroke-width="0.8" fill="none" />
<line x1="82.50" y1="280.40" x2="82.50" y2="298.00" stroke="#999" stroke-width="1.0" />
<polyline points="82.7,281.9 83.2,282.8 83.8,283.4 84.3,283.9 84.8,284.2 85.4,284.4 85.9,284.6 86.4,284.7 87.0,284.8 87.5,284.8 88.0,284.9 88.6,284.9 89.1,284.9 89.6,285.0 90.2,285.0 90.7,285.0" stroke="#999" stroke-width="0.7" fill="none" />
<polyline points="82.7,281.9 83.1,282.6 83.5,283.1 83.9,283.4 84.3,283.7 84.7,283.8 85.1,284.0 85.5,284.1 85.9,284.1 86.3,284.2 86.7,284.2 87.1,284.2 87.5,284.3 87.9,284.3 88.3,284.3 88.7,284.3" stroke="#999" stroke-width="0.7" fill="none" />
<polyline points="82.7,281.9 83.0,282.4 83.2,282.7 83.5,283.0 83.8,283.2 84.0,283.3 84.3,283.4 84.6,283.4 84.8,283.5 85.1,283.5 85.4,283.5 85.6,283.6 85.9,283.6 86.2,283.6 86.4,283.6 86.7,283.6" stroke="#999" stroke-width="0.7" fill="none" />
<line x1="204.20" y1="274.30" x2="204.20" y2="292.70" stroke="#888" stroke-width="1.0" />
<polyline points="204.4,286.7 204.7,286.9 205.0,287.1 205.3,287.2 205.6,287.3 205.9,287.3 206.2,287.4 206.5,287.4 206.8,287.4 207.1,287.5 207.4,287.5 207.7,287.5 208.0,287.5 208.3,287.5 208.6,287.5 208.9,287.5" stroke="#777" stroke-width="0.8" fill="none" />
<polyline points="204.4,286.7 204.6,287.1 204.8,287.4 205.0,287.6 205.2,287.8 205.4,287.9 205.6,288.0 205.8,288.1 206.0,288.1 206.2,288.1 206.4,288.1 206.6,288.2 206.8,288.2 207.0,288.2 207.2,288.2 207.4,288.2" stroke="#777" stroke-width="0.8" fill="none" />
<polyline points="237.5,286.6 239.0,286.4 240.5,286.5 242.0,286.4 243.5,286.2 245.0,286.6 246.5,286.2 248.0,286.3 249.5,286.6 251.1,286.2 252.6,286.4 254.1,286.4 255.6,286.3 257.1,286.6 258.6,286.4 260.1,286.2 261.6,286.4 263.1,286.2 264.6,286.5 266.1,286.6 267.6,286.6 269.1,286.2 270.6,286.5 272.1,286.3 273.6,286.4 275.2,286.3 276.7,286.3 278.2,286.2 279.7,286.5 281.2,286.2 282.7,286.6 284.2,286.2 285.7,286.6 287.2,286.2 288.7,286.2 290.2,286.5 291.7,286.4 293.2,286.5 294.7,286.4 296.2,286.5 297.7,286.2 299.3,286.5 300.8,286.4 302.3,286.6 303.8,286.2 305.3,286.2 306.8,286.5 308.3,286.6 309.8,286.4 311.3,286.5 312.8,286.4 314.3,286.3 315.8,286.4 317.3,286.5 318.8,286.2 320.3,286.3 321.8,286.5 323.4,286.3 324.9,286.4 326.4,286.3 327.9,286.3 329.4,286.5 330.9,286.5 332.4,286.6 333.9,286.4 335.4,286.3 336.9,286.3 338.4,286.2 339.9,286.3 341.4,286.4 342.9,286.5 344.4,286.3 345.9,286.2 347.5,286.2 349.0,286.2 350.5,286.4 352.0,286.3 353.5,286.6 355.0,286.4 356.5,286.3 358.0,286.4 359.5,286.2" stroke="#111" stroke-width="2.8" fill="none" />
<polyline points="237.5,285.3 239.5,285.4 241.5,285.1 243.5,285.3 245.5,285.1 247.5,285.0 249.5,285.0 251.5,285.0 253.5,285.3 255.5,285.3 257.5,285.3 259.5,285.0 261.5,285.4 263.5,285.2 265.5,285.1 267.5,285.2 269.5,285.2 271.5,285.0 273.5,285.1 275.5,285.3 277.5,285.3 279.5,285.4 281.5,285.0 283.5,285.4 285.5,285.4 287.5,285.3 289.5,285.5 291.5,285.0 293.5,285.4 295.5,285.4 297.5,285.0 299.5,285.3 301.5,285.5 303.5,285.1 305.5,285.4 307.5,285.4 309.5,285.2 311.5,285.0 313.5,285.0 315.5,285.4 317.5,285.2 319.5,285.1 321.5,285.2 323.5,285.5 325.5,285.1 327.5,284.9 329.5,285.5 331.5,285.1 333.5,285.1 335.5,285.5 337.5,285.1 339.5,285.0 341.5,285.4 343.5,285.0 345.5,285.0 347.5,285.5 349.5,285.0 351.5,285.4 353.5,285.1 355.5,285.1 357.5,285.0 359.5,285.2" stroke="#666" stroke-width="0.8" fill="none" />
<line x1="237.50" y1="267.00" x2="237.50" y2="299.70" stroke="#999" stroke-width="1.0" />
<polyline points="237.7,268.5 238.2,273.2 238.8,276.5 239.3,278.9 239.8,280.7 240.4,281.9 240.9,282.8 241.4,283.4 242.0,283.9 242.5,284.2 243.0,284.4 243.6,284.6 244.1,284.7 244.6,284.8 245.2,284.8 245.7,284.9" stroke="#999" stroke-width="0.7" fill="none" />
<polyline points="237.7,268.5 238.1,273.0 238.5,276.2 238.9,278.5 239.3,280.1 239.7,281.3 240.1,282.2 240.5,282.8 240.9,283.2 241.3,283.5 241.7,283.7 242.1,283.9 242.5,284.0 242.9,284.1 243.3,284.2 243.7,284.2" stroke="#999" stroke-width="0.7" fill="none" />
<polyline points="237.7,268.5 238.0,272.8 238.2,275.8 238.5,278.0 238.8,279.6 239.0,280.7 239.3,281.6 239.6,282.1 239.8,282.6 240.1,282.8 240.4,283.1 240.6,283.2 240.9,283.3 241.2,283.4 241.4,283.5 241.7,283.5" stroke="#999" stroke-width="0.7" fill="none" />
<line x1="359.50" y1="229.90" x2="359.50" y2="307.30" stroke="#888" stroke-width="1.0" />
<polyline points="359.7,301.3 360.0,297.4 360.3,294.6 360.6,292.6 360.9,291.1 361.2,290.1 361.5,289.4 361.8,288.8 362.1,288.5 362.4,288.2 362.7,288.0 363.0,287.9 363.3,287.8 363.6,287.7 363.9,287.6 364.2,287.6" stroke="#777" stroke-width="0.8" fill="none" />
<polyline points="359.7,301.3 359.9,297.6 360.1,294.9 360.3,293.0 360.5,291.7 360.7,290.7 360.9,290.0 361.1,289.5 361.3,289.1 361.5,288.9 361.7,288.7 361.9,288.5 362.1,288.4 362.3,288.4 362.5,288.3 362.7,288.3" stroke="#777" stroke-width="0.8" fill="none" />
<polyline points="66.4,287.0 68.0,286.9 69.6,287.0 71.2,286.9 72.8,287.2 74.5,287.2 76.1,287.1 77.7,287.2 79.3,286.8 80.9,286.9 82.5,286.9" stroke="#111" stroke-width="2.4" fill="none" />
<polyline points="204.0,286.8 205.6,287.2 207.2,287.2 208.8,287.2 210.4,287.0 212.1,286.8 213.7,287.0 215.3,286.8 216.9,287.2 218.5,286.9" stroke="#111" stroke-width="2.4" fill="none" />
<polyline points="222.3,286.9 223.8,287.2 225.3,286.9 226.9,287.2 228.4,286.9 229.9,287.1 231.4,286.8 232.9,287.2 234.5,286.9 236.0,286.9 237.5,287.1" stroke="#111" stroke-width="2.4" fill="none" />
<polyline points="359.5,287.0 361.0,286.9 362.5,286.8 364.0,287.0 365.5,286.8 367.0,287.2 368.5,286.9 370.0,286.8 371.5,286.9 373.0,286.8 374.5,286.9 376.0,287.0 377.5,287.0 379.0,286.9 380.5,286.9 382.0,287.0 383.5,287.1 385.0,287.0 386.5,287.1 388.0,287.0 389.5,286.8 391.0,286.8 392.5,287.2" stroke="#111" stroke-width="2.4" fill="none" />
<polyline points="514.0,287.0 515.5,286.9 517.1,287.0 518.6,287.2 520.2,286.9 521.7,286.9 523.3,286.9 524.8,286.8 526.3,287.0 527.9,287.0 529.4,287.0 531.0,287.0 532.5,287.0 534.1,287.1 535.6,286.8 537.1,287.2 538.7,286.8 540.2,287.2 541.8,286.8 543.3,287.1 544.9,286.9 546.4,286.8" stroke="#111" stroke-width="2.4" fill="none" />
<polyline points="669.5,287.0 671.0,287.2 672.6,287.2 674.1,287.2 675.7,287.2 677.2,286.8 678.8,286.9 680.4,286.8 681.9,287.1 683.5,287.0 685.0,287.1" stroke="#111" stroke-width="2.4" fill="none" />
<line x1="392.60" y1="204.20" x2="392.60" y2="310.00" stroke="#a0a0a0" stroke-width="1" />
<line x1="514.20" y1="205.30" x2="514.20" y2="310.00" stroke="#b0b0b0" stroke-width="1" />
<polyline points="392.6,204.8 394.6,205.2 396.7,205.3 398.7,205.6 400.7,205.7 402.7,205.7 404.8,206.3 406.8,206.1 408.8,206.3 410.8,206.8 412.9,206.7 414.9,207.1 416.9,206.9 418.9,207.2 421.0,207.6 423.0,207.4 425.0,207.7 427.1,208.1 429.1,207.8 431.1,208.2 433.1,208.3 435.2,208.4 437.2,208.6 439.2,208.6 441.2,208.4 443.3,208.6 445.3,208.8 447.3,209.1 449.3,208.8 451.4,209.1 453.4,208.9 455.4,209.4 457.5,209.2 459.5,209.4 461.5,209.5 463.5,209.3 465.6,209.6 467.6,209.7 469.6,209.8 471.6,209.6 473.7,209.6 475.7,209.6 477.7,210.0 479.7,209.8 481.8,209.9 483.8,210.0 485.8,210.1 487.9,209.9 489.9,210.0 491.9,210.2 493.9,210.3 496.0,210.1 498.0,210.0 500.0,210.4 502.0,210.4 504.1,210.3 506.1,210.3 508.1,210.6 510.1,210.3 512.2,210.2 514.2,210.2" stroke="#333" stroke-width="1" fill="none" />
<polyline points="392.6,223.9 394.6,224.3 396.7,224.4 398.7,224.9 400.7,224.9 402.7,225.0 404.8,225.3 406.8,225.4 408.8,225.6 410.8,225.7 412.9,225.9 414.9,226.0 416.9,226.3 418.9,226.1 421.0,226.6 423.0,226.4 425.0,226.8 427.1,226.6 429.1,226.9 431.1,227.0 433.1,227.2 435.2,227.0 437.2,227.2 439.2,227.2 441.2,227.5 443.3,227.6 445.3,227.4 447.3,227.5 449.3,227.6 451.4,228.0 453.4,227.9 455.4,228.0 457.5,227.9 459.5,228.1 461.5,228.3 463.5,228.3 465.6,228.0 467.6,228.3 469.6,228.3 471.6,228.1 473.7,228.6 475.7,228.4 477.7,228.4 479.7,228.6 481.8,228.6 483.8,228.6 485.8,228.8 487.9,228.7 489.9,228.6 491.9,228.5 493.9,228.8 496.0,228.7 498.0,228.8 500.0,228.8 502.0,228.6 504.1,228.7 506.1,228.7 508.1,228.7 510.1,229.1 512.2,229.0 514.2,228.9" stroke="#333" stroke-width="1" fill="none" />
<polyline points="392.6,241.1 394.6,241.2 396.7,241.1 398.7,241.5 400.7,241.4 402.7,241.9 404.8,241.6 406.8,241.8 408.8,241.9 410.8,242.3 412.9,242.4 414.9,242.4 416.9,242.2 418.9,242.5 421.0,242.7 423.0,242.4 425.0,243.0 427.1,243.0 429.1,243.1 431.1,243.1 433.1,243.1 435.2,243.3 437.2,243.0 439.2,243.1 441.2,243.1 443.3,243.2 445.3,243.5 447.3,243.2 449.3,243.6 451.4,243.5 453.4,243.8 455.4,243.7 457.5,243.7 459.5,243.9 461.5,243.5 463.5,243.6 465.6,243.7 467.6,243.8 469.6,243.9 471.6,244.1 473.7,244.0 475.7,244.2 477.7,244.1 479.7,243.9 481.8,244.0 483.8,244.2 485.8,244.2 487.9,244.0 489.9,244.0 491.9,244.2 493.9,244.0 496.0,244.4 498.0,243.9 500.0,244.3 502.0,244.2 504.1,244.1 506.1,244.3 508.1,244.2 510.1,244.5 512.2,244.5 514.2,244.3" stroke="#333" stroke-width="1" fill="none" />
<polyline points="392.6,255.2 394.6,255.3 396.7,255.0 398.7,255.5 400.7,255.6 402.7,255.7 404.8,255.7 406.8,255.6 408.8,255.6 410.8,255.9 412.9,255.7 414.9,256.1 416.9,256.1 418.9,256.3 421.0,256.1 423.0,256.1 425.0,256.5 427.1,256.4 429.1,256.3 431.1,256.5 433.1,256.4 435.2,256.6 437.2,256.6 439.2,256.5 441.2,256.9 443.3,256.9 445.3,256.9 447.3,256.7 449.3,256.6 451.4,256.9 453.4,257.0 455.4,257.0 457.5,256.8 459.5,257.1 461.5,257.0 463.5,256.9 465.6,257.1 467.6,257.0 469.6,257.2 471.6,257.2 473.7,257.4 475.7,256.9 477.7,257.2 479.7,257.4 481.8,257.3 483.8,257.3 485.8,257.4 487.9,257.0 489.9,257.4 491.9,257.3 493.9,257.3 496.0,257.2 498.0,257.4 500.0,257.1 502.0,257.4 504.1,257.2 506.1,257.6 508.1,257.5 510.1,257.4 512.2,257.5 514.2,257.3" stroke="#333" stroke-width="1" fill="none" />
<polyline points="392.6,266.0 394.6,265.9 396.7,266.4 398.7,266.4 400.7,266.5 402.7,266.2 404.8,266.6 406.8,266.3 408.8,266.7 410.8,266.7 412.9,266.5 414.9,266.8 416.9,267.1 418.9,267.0 421.0,266.9 423.0,267.2 425.0,267.0 427.1,267.3 429.1,267.1 431.1,267.0 433.1,267.5 435.2,267.1 437.2,267.2 439.2,267.5 441.2,267.2 443.3,267.4 445.3,267.6 447.3,267.5 449.3,267.4 451.4,267.7 453.4,267.7 455.4,267.6 457.5,267.7 459.5,267.5 461.5,267.6 463.5,267.9 465.6,267.9 467.6,267.5 469.6,267.6 471.6,267.6 473.7,267.9 475.7,267.6 477.7,267.6 479.7,267.9 481.8,267.7 483.8,268.1 485.8,267.8 487.9,268.1 489.9,268.0 491.9,267.7 493.9,268.1 496.0,267.9 498.0,267.8 500.0,267.7 502.0,268.1 504.1,268.0 506.1,267.9 508.1,268.1 510.1,267.8 512.2,268.0 514.2,267.8" stroke="#333" stroke-width="1" fill="none" />
<polyline points="392.6,273.8 394.6,274.2 396.7,274.0 398.7,273.9 400.7,274.0 402.7,274.3 404.8,274.2 406.8,274.5 408.8,274.1 410.8,274.6 412.9,274.5 414.9,274.7 416.9,274.5 418.9,274.4 421.0,274.5 423.0,274.7 425.0,274.5 427.1,274.5 429.1,274.9 431.1,275.0 433.1,275.0 435.2,275.0 437.2,274.9 439.2,275.1 441.2,275.0 443.3,275.0 445.3,274.9 447.3,274.8 449.3,274.8 451.4,274.9 453.4,275.0 455.4,274.9 457.5,275.3 459.5,275.2 461.5,275.3 463.5,275.4 465.6,275.0 467.6,275.4 469.6,275.4 471.6,275.1 473.7,275.0 475.7,275.4 477.7,275.4 479.7,275.4 481.8,275.2 483.8,275.3 485.8,275.1 487.9,275.2 489.9,275.3 491.9,275.4 493.9,275.1 496.0,275.6 498.0,275.1 500.0,275.6 502.0,275.2 504.1,275.5 506.1,275.5 508.1,275.6 510.1,275.4 512.2,275.5 514.2,275.3" stroke="#333" stroke-width="1" fill="none" />
<polyline points="392.6,280.4 394.6,280.1 396.7,280.5 398.7,280.4 400.7,280.2 402.7,280.7 404.8,280.4 406.8,280.3 408.8,280.5 410.8,280.4 412.9,280.6 414.9,280.8 416.9,281.0 418.9,280.9 421.0,281.0 423.0,281.0 425.0,281.0 427.1,280.9 429.1,280.8 431.1,280.8 433.1,281.0 435.2,280.9 437.2,281.2 439.2,281.0 441.2,281.1 443.3,281.1 445.3,281.2 447.3,281.0 449.3,281.1 451.4,281.3 453.4,281.1 455.4,281.3 457.5,281.5 459.5,281.2 461.5,281.5 463.5,281.3 465.6,281.5 467.6,281.3 469.6,281.5 471.6,281.4 473.7,281.2 475.7,281.4 477.7,281.4 479.7,281.4 481.8,281.5 483.8,281.6 485.8,281.6 487.9,281.6 489.9,281.2 491.9,281.5 493.9,281.5 496.0,281.7 498.0,281.2 500.0,281.3 502.0,281.7 504.1,281.4 506.1,281.6 508.1,281.5 510.1,281.4 512.2,281.5 514.2,281.5" stroke="#333" stroke-width="1" fill="none" />
<line x1="392.60" y1="285.30" x2="514.20" y2="285.30" stroke="#111" stroke-width="1.0" />
<line x1="392.60" y1="288.40" x2="514.20" y2="288.40" stroke="#111" stroke-width="1.0" />
<polyline points="392.6,290.9 394.6,290.6 396.7,290.8 398.7,290.5 400.7,290.7 402.7,290.7 404.8,290.7 406.8,290.8 408.8,290.3 410.8,290.9 412.9,290.7 414.9,290.5 416.9,290.6 418.9,290.4 421.0,290.4 423.0,290.8 425.0,290.7 427.1,290.8 429.1,290.4 431.1,290.4 433.1,290.5 435.2,290.6 437.2,290.7 439.2,290.5 441.2,290.7 443.3,290.7 445.3,290.5 447.3,290.8 449.3,290.3 451.4,290.7 453.4,290.4 455.4,290.3 457.5,290.6 459.5,290.6 461.5,290.7 463.5,290.5 465.6,290.9 467.6,290.8 469.6,290.4 471.6,290.3 473.7,290.9 475.7,290.5 477.7,290.4 479.7,290.4 481.8,290.7 483.8,290.4 485.8,290.5 487.9,290.7 489.9,290.5 491.9,290.7 493.9,290.9 496.0,290.8 498.0,290.7 500.0,290.7 502.0,290.5 504.1,290.7 506.1,290.7 508.1,290.7 510.1,290.6 512.2,290.8 514.2,290.4" stroke="#777" stroke-width="0.8" fill="none" />
<polyline points="392.6,293.0 394.6,293.2 396.7,292.6 398.7,292.8 400.7,293.2 402.7,292.6 404.8,293.1 406.8,292.9 408.8,292.6 410.8,293.0 412.9,292.6 414.9,293.1 416.9,292.8 418.9,293.2 421.0,293.1 423.0,292.7 425.0,292.8 427.1,292.7 429.1,293.1 431.1,292.7 433.1,292.6 435.2,292.7 437.2,293.1 439.2,292.7 441.2,292.8 443.3,292.9 445.3,292.9 447.3,292.8 449.3,293.2 451.4,292.8 453.4,292.9 455.4,293.1 457.5,292.7 459.5,292.7 461.5,293.1 463.5,292.8 465.6,293.1 467.6,293.1 469.6,292.8 471.6,292.8 473.7,292.7 475.7,293.1 477.7,292.9 479.7,292.8 481.8,292.7 483.8,292.7 485.8,293.1 487.9,292.7 489.9,292.9 491.9,293.0 493.9,292.9 496.0,292.9 498.0,292.8 500.0,292.7 502.0,293.1 504.1,293.1 506.1,292.9 508.1,292.8 510.1,293.1 512.2,292.7 514.2,292.7" stroke="#999" stroke-width="0.8" fill="none" />
<line x1="546.40" y1="262.90" x2="546.40" y2="364.00" stroke="#b0b0b0" stroke-width="1" />
<line x1="669.10" y1="206.20" x2="669.10" y2="311.80" stroke="#b0b0b0" stroke-width="1" />
<polyline points="546.4,270.7 547.1,271.6 547.8,272.3 548.5,272.8 549.2,273.3 549.9,273.7 550.6,274.0 551.3,274.3 552.0,274.5 552.7,274.7 553.4,274.9 554.1,275.0 555.0,275.2 557.0,275.5 559.0,275.5 561.0,275.4 563.0,275.8 565.0,275.5 567.0,275.7 569.0,276.0 571.0,275.9 573.0,276.0 575.0,275.7 577.0,276.1 579.0,275.9 581.0,275.8 583.0,276.2 585.0,276.2 587.0,275.9 589.0,276.1 591.0,276.3 593.0,276.2 595.0,276.2 597.0,276.4 599.0,276.3 601.0,276.6 603.0,276.5 605.0,276.6 607.0,276.6 609.0,276.4 611.0,276.6 613.1,276.6 615.1,276.6 617.1,276.7 619.1,276.6 621.1,276.6 623.1,276.9 625.1,276.7 627.1,276.7 629.1,277.1 631.1,276.9 633.1,277.0 635.1,276.9 637.1,276.9 639.1,277.0 641.1,277.2 643.1,277.0 645.1,277.3 647.1,277.1 649.1,277.4 651.1,277.1 653.1,277.3 655.1,277.2 657.1,277.2 659.1,277.4 661.1,277.4 663.1,277.5 665.1,277.4 667.1,277.5 669.1,277.5" stroke="#555" stroke-width="0.9" fill="none" />
<polyline points="546.4,273.0 547.1,273.9 547.8,274.7 548.5,275.3 549.2,275.8 549.9,276.2 550.6,276.6 551.3,276.9 552.0,277.1 552.7,277.3 553.4,277.5 554.1,277.6 555.0,277.9 557.0,277.8 559.0,278.1 561.0,278.3 563.0,278.3 565.0,278.2 567.0,278.5 569.0,278.2 571.0,278.3 573.0,278.3 575.0,278.5 577.0,278.7 579.0,278.5 581.0,278.5 583.0,278.7 585.0,278.5 587.0,278.5 589.0,278.8 591.0,278.6 593.0,278.8 595.0,278.7 597.0,278.9 599.0,279.0 601.0,278.9 603.0,278.8 605.0,279.0 607.0,279.1 609.0,278.9 611.0,279.0 613.1,279.0 615.1,279.1 617.1,279.1 619.1,279.3 621.1,279.1 623.1,279.4 625.1,279.2 627.1,279.2 629.1,279.2 631.1,279.2 633.1,279.3 635.1,279.6 637.1,279.4 639.1,279.5 641.1,279.7 643.1,279.8 645.1,279.7 647.1,279.5 649.1,279.6 651.1,279.7 653.1,279.6 655.1,279.7 657.1,279.7 659.1,279.7 661.1,280.0 663.1,279.9 665.1,279.9 667.1,280.0 669.1,280.0" stroke="#555" stroke-width="0.9" fill="none" />
<polyline points="546.4,275.2 547.1,276.1 547.8,276.8 548.5,277.4 549.2,277.9 549.9,278.3 550.6,278.6 551.3,278.9 552.0,279.1 552.7,279.3 553.4,279.5 554.1,279.6 555.0,279.8 557.0,279.8 559.0,280.2 561.0,280.2 563.0,280.2 565.0,280.5 567.0,280.4 569.0,280.3 571.0,280.2 573.0,280.4 575.0,280.5 577.0,280.5 579.0,280.4 581.0,280.6 583.0,280.5 585.0,280.7 587.0,280.7 589.0,280.6 591.0,280.9 593.0,280.8 595.0,280.6 597.0,280.7 599.0,280.7 601.0,280.9 603.0,281.1 605.0,281.1 607.0,281.1 609.0,280.9 611.0,281.0 613.1,281.0 615.1,281.1 617.1,281.2 619.1,281.0 621.1,281.2 623.1,281.2 625.1,281.4 627.1,281.5 629.1,281.3 631.1,281.4 633.1,281.3 635.1,281.4 637.1,281.5 639.1,281.3 641.1,281.6 643.1,281.6 645.1,281.5 647.1,281.5 649.1,281.8 651.1,281.6 653.1,281.6 655.1,281.7 657.1,281.8 659.1,281.8 661.1,281.8 663.1,281.8 665.1,281.8 667.1,282.0 669.1,282.0" stroke="#555" stroke-width="0.9" fill="none" />
<polyline points="546.4,278.0 547.1,278.9 547.8,279.6 548.5,280.2 549.2,280.7 549.9,281.0 550.6,281.4 551.3,281.6 552.0,281.9 552.7,282.0 553.4,282.2 554.1,282.3 555.0,282.3 557.0,282.7 559.0,282.7 561.0,283.0 563.0,283.1 565.0,282.8 567.0,283.0 569.0,282.9 571.0,282.9 573.0,283.2 575.0,283.2 577.0,283.2 579.0,283.1 581.0,283.3 583.0,283.2 585.0,283.2 587.0,283.2 589.0,283.3 591.0,283.4 593.0,283.2 595.0,283.1 597.0,283.3 599.0,283.3 601.0,283.3 603.0,283.5 605.0,283.5 607.0,283.4 609.0,283.4 611.0,283.5 613.1,283.3 615.1,283.6 617.1,283.3 619.1,283.7 621.1,283.6 623.1,283.4 625.1,283.4 627.1,283.6 629.1,283.6 631.1,283.7 633.1,283.5 635.1,283.8 637.1,283.6 639.1,283.7 641.1,283.8 643.1,283.8 645.1,283.7 647.1,283.7 649.1,283.8 651.1,283.6 653.1,283.7 655.1,284.0 657.1,283.7 659.1,283.7 661.1,284.1 663.1,283.9 665.1,284.0 667.1,284.0 669.1,284.1" stroke="#555" stroke-width="0.9" fill="none" />
<polyline points="546.4,281.0 547.1,281.8 547.8,282.4 548.5,282.9 549.2,283.3 549.9,283.7 550.6,283.9 551.3,284.2 552.0,284.4 552.7,284.5 553.4,284.7 554.1,284.8 555.0,284.8 557.0,285.1 559.0,284.9 561.0,285.3 563.0,285.2 565.0,285.3 567.0,285.2 569.0,285.4 571.0,285.3 573.0,285.4 575.0,285.3 577.0,285.5 579.0,285.5 581.0,285.2 583.0,285.5 585.0,285.6 587.0,285.3 589.0,285.3 591.0,285.6 593.0,285.6 595.0,285.3 597.0,285.5 599.0,285.6 601.0,285.4 603.0,285.6 605.0,285.4 607.0,285.6 609.0,285.5 611.0,285.5 613.1,285.4 615.1,285.6 617.1,285.6 619.1,285.5 621.1,285.4 623.1,285.4 625.1,285.5 627.1,285.8 629.1,285.7 631.1,285.8 633.1,285.7 635.1,285.5 637.1,285.6 639.1,285.8 641.1,285.8 643.1,285.9 645.1,285.8 647.1,285.8 649.1,285.8 651.1,285.9 653.1,285.7 655.1,285.5 657.1,285.7 659.1,285.6 661.1,285.7 663.1,285.8 665.1,285.7 667.1,285.7 669.1,285.6" stroke="#555" stroke-width="0.9" fill="none" />
<polyline points="546.4,287.2 547.9,287.3 549.4,287.4 550.9,287.7 552.5,287.0 554.0,287.1 555.5,287.0 557.0,287.6 558.5,287.4 560.0,287.4 561.5,287.6 563.1,286.9 564.6,287.6 566.1,287.2 567.6,287.4 569.1,287.2 570.6,287.5 572.2,287.1 573.7,287.1 575.2,287.1 576.7,287.5 578.2,287.3 579.7,287.0 581.2,287.2 582.8,287.4 584.3,287.2 585.8,287.4 587.3,287.6 588.8,287.4 590.3,287.5 591.8,287.1 593.4,287.6 594.9,287.7 596.4,287.3 597.9,286.9 599.4,287.0 600.9,287.5 602.4,287.6 604.0,287.5 605.5,287.3 607.0,287.3 608.5,287.0 610.0,287.4 611.5,287.7 613.1,287.1 614.6,287.4 616.1,287.6 617.6,287.4 619.1,287.2 620.6,287.1 622.1,287.5 623.7,287.6 625.2,287.6 626.7,287.2 628.2,287.5 629.7,287.5 631.2,287.2 632.7,287.5 634.3,287.2 635.8,287.1 637.3,286.9 638.8,287.5 640.3,287.5 641.8,286.9 643.3,286.9 644.9,287.2 646.4,287.1 647.9,287.5 649.4,287.1 650.9,287.4 652.4,287.3 654.0,287.2 655.5,287.6 657.0,287.2 658.5,287.3 660.0,287.4 661.5,287.2 663.0,287.0 664.6,287.7 666.1,287.5 667.6,287.3 669.1,287.3" stroke="#111" stroke-width="2.2" fill="none" />
<line x1="669.20" y1="284.70" x2="669.20" y2="294.40" stroke="#333" stroke-width="1.1" />
<polyline points="669.4,294.0 670.1,292.3 670.7,291.1 671.4,290.2 672.1,289.6 672.7,289.1 673.4,288.8 674.1,288.6 674.7,288.4 675.4,288.3 676.1,288.2 676.7,288.2 677.4,288.1 678.1,288.1 678.7,288.1 679.4,288.0" stroke="#333" stroke-width="0.9" fill="none" />
<polyline points="669.4,294.0 669.9,292.6 670.4,291.6 670.9,290.8 671.4,290.3 671.9,289.9 672.4,289.7 672.9,289.5 673.4,289.3 673.9,289.2 674.4,289.2 674.9,289.1 675.4,289.1 675.9,289.1 676.4,289.0 676.9,289.0" stroke="#333" stroke-width="0.9" fill="none" />
<polyline points="669.4,294.0 669.7,292.9 670.1,292.1 670.4,291.5 670.7,291.1 671.1,290.8 671.4,290.5 671.7,290.4 672.1,290.3 672.4,290.2 672.7,290.1 673.1,290.1 673.4,290.1 673.7,290.1 674.1,290.0 674.4,290.0" stroke="#333" stroke-width="0.9" fill="none" />
<line x1="356.6" y1="286.8" x2="685" y2="286.8" stroke="#000" stroke-width="3.2" stroke-dasharray="9.5 7.27"/>
<line x1="159.40" y1="338.80" x2="159.40" y2="649.00" stroke="#222" stroke-width="1.8" />
<line x1="155.00" y1="339.25" x2="159.40" y2="339.25" stroke="#222" stroke-width="1.6" />
<line x1="155.00" y1="390.93" x2="159.40" y2="390.93" stroke="#222" stroke-width="1.6" />
<line x1="155.00" y1="442.62" x2="159.40" y2="442.62" stroke="#222" stroke-width="1.6" />
<line x1="155.00" y1="545.99" x2="159.40" y2="545.99" stroke="#222" stroke-width="1.6" />
<line x1="155.00" y1="597.67" x2="159.40" y2="597.67" stroke="#222" stroke-width="1.6" />
<line x1="155.00" y1="649.36" x2="159.40" y2="649.36" stroke="#222" stroke-width="1.6" />
<line x1="15.40" y1="494.30" x2="275.50" y2="494.30" stroke="#222" stroke-width="1.8" />
<line x1="14.50" y1="494.30" x2="14.50" y2="498.00" stroke="#222" stroke-width="1.6" />
<line x1="43.50" y1="494.30" x2="43.50" y2="498.00" stroke="#222" stroke-width="1.6" />
<line x1="72.50" y1="494.30" x2="72.50" y2="498.00" stroke="#222" stroke-width="1.6" />
<line x1="101.50" y1="494.30" x2="101.50" y2="498.00" stroke="#222" stroke-width="1.6" />
<line x1="130.50" y1="494.30" x2="130.50" y2="498.00" stroke="#222" stroke-width="1.6" />
<line x1="188.50" y1="494.30" x2="188.50" y2="498.00" stroke="#222" stroke-width="1.6" />
<line x1="217.50" y1="494.30" x2="217.50" y2="498.00" stroke="#222" stroke-width="1.6" />
<line x1="246.50" y1="494.30" x2="246.50" y2="498.00" stroke="#222" stroke-width="1.6" />
<line x1="275.50" y1="494.30" x2="275.50" y2="498.00" stroke="#222" stroke-width="1.6" />
<line x1="43.50" y1="623.82" x2="43.50" y2="588.70" stroke="#808080" stroke-width="1.3" />
<line x1="39.50" y1="588.70" x2="47.50" y2="588.70" stroke="#808080" stroke-width="1.3" />
<line x1="66.70" y1="602.01" x2="66.70" y2="572.30" stroke="#808080" stroke-width="1.3" />
<line x1="62.70" y1="572.30" x2="70.70" y2="572.30" stroke="#808080" stroke-width="1.3" />
<line x1="89.90" y1="575.45" x2="89.90" y2="555.60" stroke="#808080" stroke-width="1.3" />
<line x1="85.90" y1="555.60" x2="93.90" y2="555.60" stroke="#808080" stroke-width="1.3" />
<line x1="113.10" y1="548.88" x2="113.10" y2="534.40" stroke="#808080" stroke-width="1.3" />
<line x1="109.10" y1="534.40" x2="117.10" y2="534.40" stroke="#808080" stroke-width="1.3" />
<line x1="136.30" y1="521.28" x2="136.30" y2="513.60" stroke="#808080" stroke-width="1.3" />
<line x1="132.30" y1="513.60" x2="140.30" y2="513.60" stroke="#808080" stroke-width="1.3" />
<line x1="205.90" y1="434.76" x2="205.90" y2="426.00" stroke="#808080" stroke-width="1.3" />
<line x1="201.90" y1="426.00" x2="209.90" y2="426.00" stroke="#808080" stroke-width="1.3" />
<line x1="275.50" y1="373.36" x2="275.50" y2="351.50" stroke="#808080" stroke-width="1.3" />
<line x1="271.50" y1="351.50" x2="279.50" y2="351.50" stroke="#808080" stroke-width="1.3" />
<polyline points="43.5,623.8 66.7,602.0 89.9,575.4 113.1,548.9 136.3,521.3 159.5,494.3 182.7,463.7 205.9,434.8 229.1,406.0 252.3,380.4 275.5,373.4" stroke="#808080" stroke-width="3" fill="none" />
<circle cx="43.5" cy="623.8" r="6.5" fill="#808080"/>
<circle cx="66.7" cy="602.0" r="6.5" fill="#808080"/>
<circle cx="89.9" cy="575.4" r="6.5" fill="#808080"/>
<circle cx="113.1" cy="548.9" r="6.5" fill="#808080"/>
<circle cx="136.3" cy="521.3" r="6.5" fill="#808080"/>
<circle cx="159.5" cy="494.3" r="6.5" fill="#808080"/>
<circle cx="182.7" cy="463.7" r="6.5" fill="#808080"/>
<circle cx="205.9" cy="434.8" r="6.5" fill="#808080"/>
<circle cx="229.1" cy="406.0" r="6.5" fill="#808080"/>
<circle cx="252.3" cy="380.4" r="6.5" fill="#808080"/>
<circle cx="275.5" cy="373.4" r="6.5" fill="#808080"/>
<line x1="252.30" y1="369.22" x2="252.30" y2="354.70" stroke="#222" stroke-width="1.1" />
<line x1="248.30" y1="354.70" x2="256.30" y2="354.70" stroke="#222" stroke-width="1.1" />
<line x1="229.10" y1="390.41" x2="229.10" y2="380.80" stroke="#222" stroke-width="1.1" />
<line x1="225.10" y1="380.80" x2="233.10" y2="380.80" stroke="#222" stroke-width="1.1" />
<line x1="205.90" y1="414.39" x2="205.90" y2="407.00" stroke="#222" stroke-width="1.1" />
<line x1="201.90" y1="407.00" x2="209.90" y2="407.00" stroke="#222" stroke-width="1.1" />
<line x1="182.70" y1="437.45" x2="182.70" y2="433.00" stroke="#222" stroke-width="1.1" />
<line x1="178.70" y1="433.00" x2="186.70" y2="433.00" stroke="#222" stroke-width="1.1" />
<polyline points="20.3,519.9 43.5,513.8 66.7,505.2 89.9,497.5 113.1,487.2 136.3,473.5 159.5,457.0 182.7,437.4 205.9,414.4 229.1,390.4 252.3,369.2" stroke="#dd2727" stroke-width="3" fill="none" />
<rect x="13.50" y="513.14" width="13.60" height="13.60" fill="#dd2727" stroke="none" stroke-width="0"/>
<rect x="36.70" y="507.04" width="13.60" height="13.60" fill="#dd2727" stroke="none" stroke-width="0"/>
<rect x="59.90" y="498.35" width="13.60" height="13.60" fill="#dd2727" stroke="none" stroke-width="0"/>
<rect x="83.10" y="490.70" width="13.60" height="13.60" fill="#dd2727" stroke="none" stroke-width="0"/>
<rect x="106.30" y="480.37" width="13.60" height="13.60" fill="#dd2727" stroke="none" stroke-width="0"/>
<rect x="129.50" y="466.72" width="13.60" height="13.60" fill="#dd2727" stroke="none" stroke-width="0"/>
<rect x="152.70" y="450.18" width="13.60" height="13.60" fill="#dd2727" stroke="none" stroke-width="0"/>
<rect x="175.90" y="430.65" width="13.60" height="13.60" fill="#dd2727" stroke="none" stroke-width="0"/>
<rect x="199.10" y="407.59" width="13.60" height="13.60" fill="#dd2727" stroke="none" stroke-width="0"/>
<rect x="222.30" y="383.61" width="13.60" height="13.60" fill="#dd2727" stroke="none" stroke-width="0"/>
<rect x="245.50" y="362.42" width="13.60" height="13.60" fill="#dd2727" stroke="none" stroke-width="0"/>
<text x="147.3" y="344.9" font-size="15.4" text-anchor="end" >1500</text>
<text x="147.3" y="396.6" font-size="15.4" text-anchor="end" >1000</text>
<text x="147.3" y="448.3" font-size="15.4" text-anchor="end" >500</text>
<text x="147.3" y="551.7" font-size="15.4" text-anchor="end" >-500</text>
<text x="147.3" y="603.4" font-size="15.4" text-anchor="end" >-1000</text>
<text x="147.3" y="655.1" font-size="15.4" text-anchor="end" >-1500</text>
<text x="14.5" y="517.7" font-size="15.2" text-anchor="middle" >-125</text>
<text x="43.5" y="517.7" font-size="15.2" text-anchor="middle" >-100</text>
<text x="72.5" y="517.7" font-size="15.2" text-anchor="middle" >-75</text>
<text x="101.5" y="517.7" font-size="15.2" text-anchor="middle" >-50</text>
<text x="188.5" y="517.7" font-size="15.2" text-anchor="middle" >25</text>
<text x="217.5" y="517.7" font-size="15.2" text-anchor="middle" >50</text>
<text x="246.5" y="517.7" font-size="15.2" text-anchor="middle" >75</text>
<text x="275.5" y="517.7" font-size="15.2" text-anchor="middle" >100</text>
<text x="79.0" y="369.6" font-size="15.1" text-anchor="start" >I [pA]</text>
<text x="238.7" y="535.3" font-size="15.4" text-anchor="start" >V [mV]</text>
<line x1="190.40" y1="569.00" x2="227.40" y2="569.00" stroke="#808080" stroke-width="3" />
<circle cx="210.4" cy="569" r="6.6" fill="#808080"/>
<line x1="190.40" y1="591.50" x2="227.40" y2="591.50" stroke="#dd2727" stroke-width="3" />
<rect x="204.40" y="585.30" width="12.60" height="12.60" fill="#dd2727" stroke="none" stroke-width="0"/>
<text x="230.4" y="573.8" font-size="15.4" text-anchor="start" >Hypo Cl<tspan font-size="10" dy="-5">-</tspan><tspan dy="5">i</tspan></text>
<text x="230.3" y="594.6" font-size="15.4" text-anchor="start" >Hypo GSHi</text>
<line x1="380.00" y1="387.00" x2="380.00" y2="646.00" stroke="#111" stroke-width="1.6" />
<line x1="376.20" y1="387.00" x2="380.00" y2="387.00" stroke="#111" stroke-width="1.5" />
<line x1="376.20" y1="451.70" x2="380.00" y2="451.70" stroke="#111" stroke-width="1.5" />
<line x1="376.20" y1="516.40" x2="380.00" y2="516.40" stroke="#111" stroke-width="1.5" />
<line x1="376.20" y1="581.10" x2="380.00" y2="581.10" stroke="#111" stroke-width="1.5" />
<line x1="376.20" y1="645.80" x2="380.00" y2="645.80" stroke="#111" stroke-width="1.5" />
<text x="370.0" y="393.2" font-size="15.8" text-anchor="end" >0</text>
<text x="370.0" y="457.9" font-size="15.8" text-anchor="end" >-0.2</text>
<text x="370.0" y="522.6" font-size="15.8" text-anchor="end" >-0.4</text>
<text x="370.0" y="587.3" font-size="15.8" text-anchor="end" >-0.6</text>
<text x="370.0" y="652.0" font-size="15.8" text-anchor="end" >-0.8</text>
<text x="0.0" y="0.0" font-size="15.2" text-anchor="start" transform="translate(339.2 567.6) rotate(-90)">I [nA] at -120mV</text>
<text x="387.6" y="363.4" font-size="15.4" text-anchor="start" >Hypo</text>
<text x="442.3" y="361.0" font-size="15.4" text-anchor="start" >Hypo</text>
<text x="439.0" y="377.8" font-size="15.4" text-anchor="start" >DCPIB</text>
<line x1="406.40" y1="408.60" x2="406.40" y2="606.50" stroke="#111" stroke-width="1.5" />
<line x1="397.50" y1="408.60" x2="415.10" y2="408.60" stroke="#111" stroke-width="1.5" />
<line x1="398.20" y1="606.50" x2="415.00" y2="606.50" stroke="#111" stroke-width="1.5" />
<rect x="388.10" y="429.00" width="36.60" height="63.50" fill="#dd2727" stroke="#111" stroke-width="1.4"/>
<line x1="388.10" y1="445.10" x2="424.70" y2="445.10" stroke="#111" stroke-width="1.4" />
<line x1="460.30" y1="393.30" x2="460.30" y2="464.10" stroke="#111" stroke-width="1.5" />
<line x1="451.90" y1="393.30" x2="469.50" y2="393.30" stroke="#111" stroke-width="1.8" />
<line x1="452.70" y1="464.10" x2="470.00" y2="464.10" stroke="#111" stroke-width="1.5" />
<rect x="442.50" y="395.00" width="35.70" height="5.30" fill="#ee8020" stroke="#111" stroke-width="1.4"/>
<line x1="442.50" y1="397.60" x2="478.20" y2="397.60" stroke="#111" stroke-width="1.0" />
<line x1="407.10" y1="625.60" x2="459.90" y2="625.60" stroke="#111" stroke-width="1.5" />
<text x="431.3" y="648.5" font-size="17.5" text-anchor="middle" >**</text>
<line x1="546.40" y1="330.00" x2="546.40" y2="363.80" stroke="#ccc" stroke-width="1" />
<line x1="556.60" y1="367.30" x2="556.60" y2="603.60" stroke="#111" stroke-width="1.6" />
<line x1="550.50" y1="603.40" x2="556.60" y2="603.40" stroke="#111" stroke-width="1.5" />
<text x="546.4" y="612.6" font-size="15.6" text-anchor="end" >0</text>
<line x1="550.50" y1="538.84" x2="556.60" y2="538.84" stroke="#111" stroke-width="1.5" />
<text x="546.4" y="548.0" font-size="15.6" text-anchor="end" >2</text>
<line x1="550.50" y1="474.28" x2="556.60" y2="474.28" stroke="#111" stroke-width="1.5" />
<text x="546.4" y="483.5" font-size="15.6" text-anchor="end" >4</text>
<line x1="550.50" y1="409.72" x2="556.60" y2="409.72" stroke="#111" stroke-width="1.5" />
<text x="546.4" y="418.9" font-size="15.6" text-anchor="end" >6</text>
<text x="0.0" y="0.0" font-size="15.4" text-anchor="start" transform="translate(528.2 510.9) rotate(-90)">G [nS]</text>
<line x1="587.00" y1="395.60" x2="587.00" y2="559.00" stroke="#111" stroke-width="1.5" />
<line x1="577.50" y1="395.60" x2="595.90" y2="395.60" stroke="#111" stroke-width="1.5" />
<line x1="577.70" y1="559.00" x2="596.00" y2="559.00" stroke="#111" stroke-width="1.5" />
<rect x="567.90" y="450.20" width="38.40" height="91.00" fill="#dd2727" stroke="#111" stroke-width="1.4"/>
<line x1="567.90" y1="482.70" x2="606.30" y2="482.70" stroke="#111" stroke-width="1.5" />
<line x1="645.10" y1="534.40" x2="645.10" y2="591.40" stroke="#111" stroke-width="1.5" />
<line x1="636.10" y1="534.40" x2="654.80" y2="534.40" stroke="#111" stroke-width="1.5" />
<line x1="636.20" y1="591.40" x2="654.90" y2="591.40" stroke="#111" stroke-width="1.5" />
<rect x="625.60" y="579.30" width="38.90" height="8.20" fill="#ee8020" stroke="#111" stroke-width="1.4"/>
<line x1="625.60" y1="581.80" x2="664.50" y2="581.80" stroke="#3a1a00" stroke-width="1.5" />
<line x1="588.60" y1="375.90" x2="644.50" y2="375.90" stroke="#111" stroke-width="1.5" />
<text x="615.5" y="374.2" font-size="17.5" text-anchor="middle" >***</text>
<text x="566.6" y="627.3" font-size="15.4" text-anchor="start" >Hypo</text>
<text x="625.0" y="627.3" font-size="15.4" text-anchor="start" >Hypo</text>
<text x="620.6" y="644.6" font-size="15.4" text-anchor="start" >DCPIB</text>
</svg></body></html>
